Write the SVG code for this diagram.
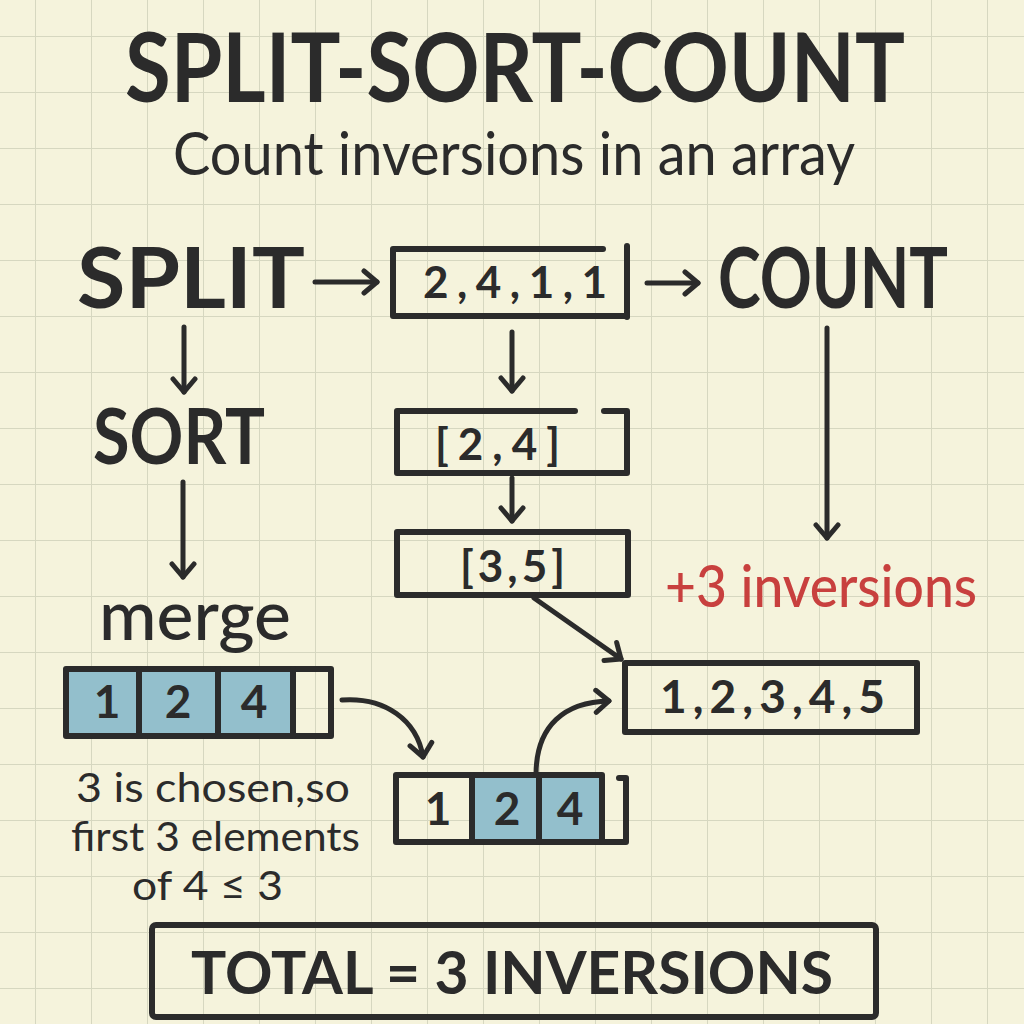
<svg xmlns="http://www.w3.org/2000/svg" width="1024" height="1024" viewBox="0 0 1024 1024">
<defs>
<style>
.t{font-family:Lato,"Open Sans","Liberation Sans",sans-serif;fill:#2b2b2b}
.h{font-weight:700}
.m{font-weight:500}
.s{fill:none;stroke:#2b2b2b;stroke-width:6;stroke-linecap:round;stroke-linejoin:round}
.a{fill:none;stroke:#2b2b2b;stroke-width:5;stroke-linecap:round;stroke-linejoin:round}
.blue{fill:#93bfcc}
</style>
<pattern id="grid" x="35" y="36" width="56" height="56" patternUnits="userSpaceOnUse">
<path d="M0,0 L0,56 M0,0 L56,0" fill="none" stroke="#d6d7c0" stroke-width="2"/>
</pattern>
<marker id="ah" viewBox="-16 -14 20 28" refX="0" refY="0" markerWidth="20" markerHeight="28" markerUnits="userSpaceOnUse" orient="auto">
<path d="M-13,-11 L0,0 L-13,11" fill="none" stroke="#2b2b2b" stroke-width="5" stroke-linecap="round" stroke-linejoin="round"/>
</marker>
</defs>
<rect width="1024" height="1024" fill="#f5f3dc"/>
<rect width="1024" height="1024" fill="url(#grid)"/>

<g id="title">
<text class="t h" x="125" y="102" font-size="96" textLength="780" lengthAdjust="spacingAndGlyphs">SPLIT-SORT-COUNT</text>
<text class="t" x="173" y="175" font-size="60" textLength="682" lengthAdjust="spacingAndGlyphs">Count inversions in an array</text>
</g>

<g id="split"><text class="t h" x="77" y="308" font-size="85" textLength="228" lengthAdjust="spacingAndGlyphs">SPLIT</text></g>
<g id="count"><text class="t h" x="718" y="308" font-size="85" textLength="230" lengthAdjust="spacingAndGlyphs">COUNT</text></g>
<g id="sort"><text class="t h" x="93" y="464" font-size="76" textLength="172" lengthAdjust="spacingAndGlyphs">SORT</text></g>
<g id="merge"><text class="t m" x="99" y="640" font-size="70" textLength="192" lengthAdjust="spacingAndGlyphs">merge</text></g>

<g id="array-box">
<path class="s" d="M603,249 L393,249 L393,316 L627,316"/>
<path class="s" d="M627,246 L627,317"/>
<text class="t h" x="423" y="298" font-size="44" textLength="184" lengthAdjust="spacing">2,4,1,1</text>
</g>

<g id="left-half">
<path class="s" d="M575,411 L397,411 L397,473 L627,473 L627,411 L604,411"/>
<text class="t h" x="435" y="460" font-size="44" textLength="125" lengthAdjust="spacing">[2,4]</text>
</g>

<g id="right-half">
<rect class="s" x="397" y="532" width="231" height="63"/>
<text class="t h" x="460" y="582" font-size="44" textLength="105" lengthAdjust="spacing">[3,5]</text>
</g>

<g id="inversions"><text x="665" y="607" font-family="Lato,'Open Sans','Liberation Sans',sans-serif" font-weight="500" font-size="58" fill="#c8403e" textLength="312" lengthAdjust="spacingAndGlyphs">+3 inversions</text></g>

<g id="sorted-box">
<rect class="s" x="625" y="663" width="292" height="69"/>
<text class="t h" x="660" y="713" font-size="46" textLength="225" lengthAdjust="spacing">1,2,3,4,5</text>
</g>

<g id="merge-array">
<rect class="blue" x="69" y="672" width="70" height="61"/>
<rect class="blue" x="139" y="672" width="79" height="61"/>
<rect class="blue" x="218" y="672" width="75" height="61"/>
<rect class="s" x="66" y="669" width="265" height="67"/>
<path class="s" d="M139,669 L139,736 M218,669 L218,736 M293,669 L293,736"/>
<text class="t h" x="107" y="718" font-size="46" text-anchor="middle">1</text>
<text class="t h" x="178" y="718" font-size="46" text-anchor="middle">2</text>
<text class="t h" x="254" y="718" font-size="46" text-anchor="middle">4</text>
</g>

<g id="result-array">
<rect class="blue" x="472" y="778" width="67" height="61"/>
<rect class="blue" x="539" y="778" width="63" height="61"/>
<rect class="s" x="396" y="775" width="206" height="67"/>
<path class="s" d="M472,775 L472,842 M539,775 L539,842"/>
<path class="s" d="M619,778 L626,778 L626,842 L602,842"/>
<text class="t h" x="438" y="825" font-size="46" text-anchor="middle">1</text>
<text class="t h" x="507" y="825" font-size="46" text-anchor="middle">2</text>
<text class="t h" x="570" y="825" font-size="46" text-anchor="middle">4</text>
</g>

<g id="note">
<text class="t" x="76" y="802" font-size="40" textLength="274" lengthAdjust="spacingAndGlyphs">3 is chosen,so</text>
<text class="t" x="71" y="851" font-size="40" textLength="289" lengthAdjust="spacingAndGlyphs">first 3 elements</text>
<text class="t" x="132" y="900" font-size="40" textLength="151" lengthAdjust="spacingAndGlyphs">of 4 ≤ 3</text>
</g>

<g id="total">
<rect class="s" x="152" y="925" width="724" height="92" rx="4"/>
<text class="t h" x="191" y="994" font-size="60" textLength="642" lengthAdjust="spacingAndGlyphs">TOTAL = 3 INVERSIONS</text>
</g>

<g id="connectors">
<path class="a" d="M315,282 L377,282" marker-end="url(#ah)"/>
<path class="a" d="M647,283 L698,283" marker-end="url(#ah)"/>
<path class="a" d="M184,327 L184,392" marker-end="url(#ah)"/>
<path class="a" d="M183,482 L183,577" marker-end="url(#ah)"/>
<path class="a" d="M512,332 L512,391" marker-end="url(#ah)"/>
<path class="a" d="M512,478 L512,521" marker-end="url(#ah)"/>
<path class="a" d="M827,328 L827,538" marker-end="url(#ah)"/>
<path class="a" d="M534,598 L621,659" marker-end="url(#ah)"/>
<path class="a" d="M342,700 C385,697 417,720 423,757" marker-end="url(#ah)"/>
<path class="a" d="M536,775 C536,725 565,702 609,701" marker-end="url(#ah)"/>
</g>
</svg>
